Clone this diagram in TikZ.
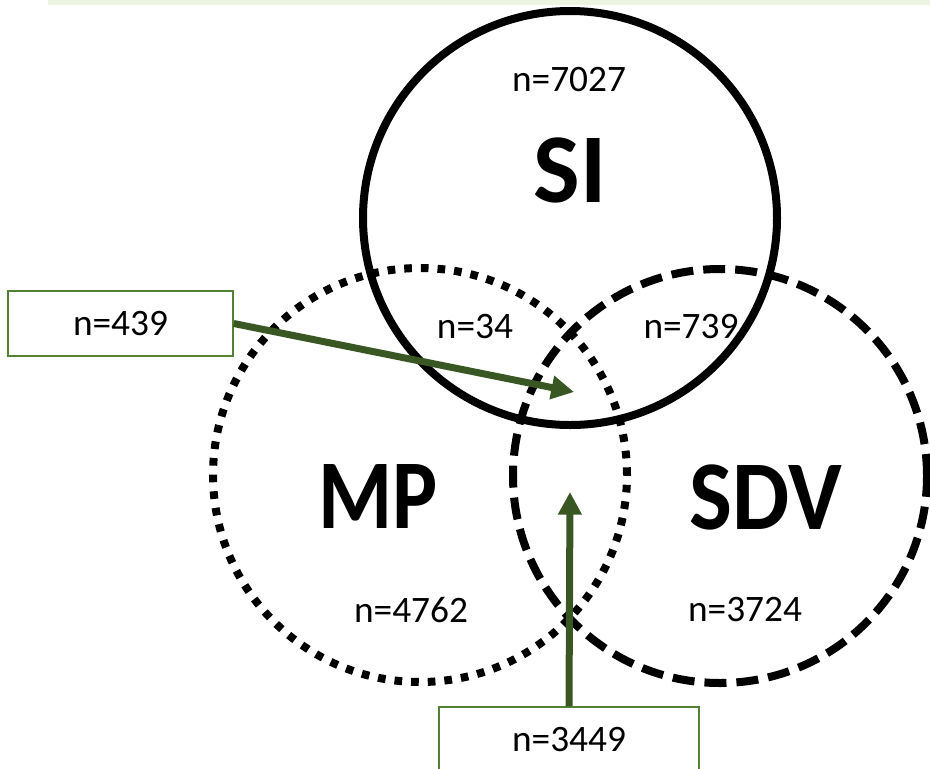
\documentclass[tikz,border=0pt]{standalone}
\usepackage{fontspec}
\setmainfont{Carlito}
\usetikzlibrary{arrows.meta}
\definecolor{arrowgreen}{RGB}{56,87,35}
\definecolor{boxgreen}{RGB}{84,130,53}
\definecolor{bandgreen}{RGB}{235,245,223}
\begin{document}
\begin{tikzpicture}[x=0.75pt,y=-0.75pt,
  ring/.style={line width=6pt},
  dotring/.style={ring, dash pattern=on 5.75pt off 6.75pt},
  dashring/.style={ring, dash pattern=on 16.5pt off 7.5pt},
  lbl/.style={font=\fontsize{28}{32}\selectfont, inner sep=0pt},
  big/.style={font=\fontsize{74}{88}\selectfont\bfseries, inner sep=0pt},
  nbox/.style={draw=boxgreen, line width=1.1pt, fill=white, minimum width=168.75pt, minimum height=48.75pt, inner sep=0pt, font=\fontsize{28}{32}\selectfont},
  arr/.style={draw=arrowgreen, line width=5.25pt, -{Triangle[length=17pt,width=17pt]}}]
\useasboundingbox (0,0) rectangle (930,768);
\fill[bandgreen] (48,0) rectangle (930,5);
% circles
\draw[ring] (570,218) circle[radius=155.25pt];
\draw[dotring] (420,475) circle[radius=155.25pt];
\draw[dashring] (720,476) circle[radius=155.25pt];
% labels
\node[lbl] (n7027) at (569,80) {n=7027};
\node[big] (si) at (570,170) {SI};
\node[lbl] (n34) at (475,327) {n=34};
\node[lbl] (n739) at (691,327) {n=739};
\node[big] (mp) at (378,496) {\scalebox{0.86}[1]{MP}};
\node[big] (sdv) at (766,497) {\scalebox{0.92}[1]{SDV}};
\node[lbl] (n4762) at (411,610) {n=4762};
\node[lbl] (n3724) at (745,610) {n=3724};
% boxes
\node[nbox] (b439) at (120.5,323.5) {n=439};
\node[nbox, minimum width=195pt] (b3449) at (569,739.5) {n=3449};
% arrows
\coordinate (t1) at (574,392);
\coordinate (t2) at (570,492);
\draw[arr] (b439.east) -- (t1);
\draw[arr] (b3449.north) -- (t2);
\end{tikzpicture}
\end{document}
